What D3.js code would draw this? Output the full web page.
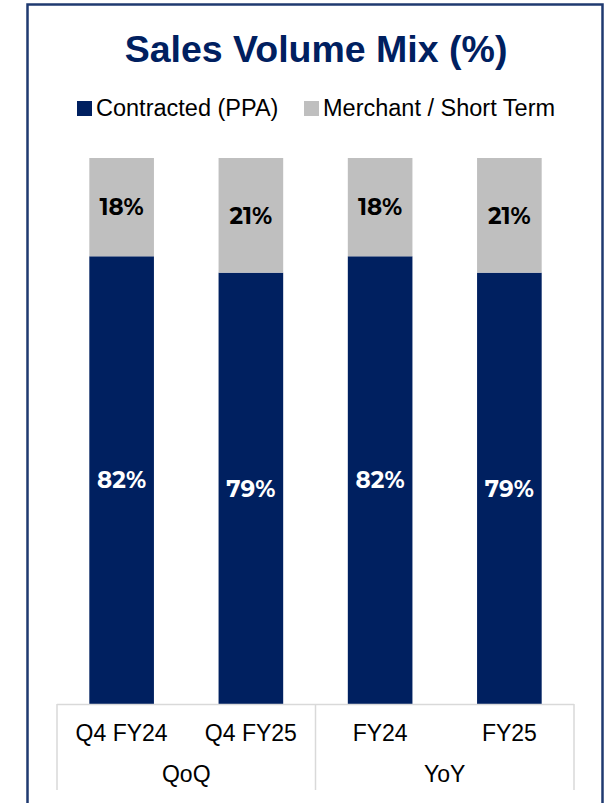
<!DOCTYPE html>
<html>
<head>
<meta charset="utf-8">
<script src="https://cdn.jsdelivr.net/npm/d3@7"></script>
<style>
  html, body { margin: 0; padding: 0; background: #fff; }
  svg { display: block; }
</style>
</head>
<body>
<svg id="chart" width="613" height="803"></svg>
<script>
// Sales volume mix by period
const categories = ["Q4 FY24", "Q4 FY25", "FY24", "FY25"];
const groups = [
  { name: "QoQ", members: ["Q4 FY24", "Q4 FY25"] },
  { name: "YoY", members: ["FY24", "FY25"] }
];
const contracted = [82, 79, 82, 79];
const merchant = [18, 21, 18, 21];
const seriesNames = ["Contracted (PPA)", "Merchant / Short Term"];
const seriesColors = ["#002060", "#BFBFBF"];

const svg = d3.select("#chart");
const sansFont = "Liberation Sans, Arial, sans-serif";

// outer frame
svg.append("rect")
  .attr("x", 27.5).attr("y", 4.5)
  .attr("width", 575).attr("height", 820)
  .attr("fill", "none").attr("stroke", "#1F3A70").attr("stroke-width", 2.5);

// title
svg.append("text")
  .attr("x", 316).attr("y", 62)
  .attr("text-anchor", "middle")
  .attr("font-family", sansFont)
  .attr("font-weight", "bold")
  .attr("font-size", 37.5)
  .attr("fill", "#002060")
  .text("Sales Volume Mix (%)");

// legend
const legendItems = [
  { x: 77, label: seriesNames[0], color: seriesColors[0] },
  { x: 304, label: seriesNames[1], color: seriesColors[1] }
];
const lg = svg.append("g");
legendItems.forEach(d => {
  lg.append("rect").attr("x", d.x).attr("y", 101).attr("width", 15).attr("height", 15).attr("fill", d.color);
  lg.append("text")
    .attr("x", d.x + 19).attr("y", 116)
    .attr("font-family", sansFont)
    .attr("font-size", 23.5)
    .attr("fill", "#000")
    .text(d.label);
});

// scales
const plotLeft = 57, plotRight = 574, plotTop = 158, plotBottom = 704;
const x = d3.scaleBand().domain(categories).range([plotLeft, plotRight]).paddingInner(0.5).paddingOuter(0.25);
const y = d3.scaleLinear().domain([0, 100]).range([plotBottom, plotTop]);

const rows = categories.map((c, i) => ({ cat: c, contracted: contracted[i], merchant: merchant[i] }));
const stacked = d3.stack().keys(["contracted", "merchant"])(rows);

const barG = svg.append("g");
stacked.forEach((layer, li) => {
  barG.selectAll(null)
    .data(layer)
    .join("rect")
    .attr("x", d => x(d.data.cat))
    .attr("y", d => y(d[1]))
    .attr("width", x.bandwidth())
    .attr("height", d => y(d[0]) - y(d[1]))
    .attr("fill", seriesColors[li]);

  barG.selectAll(null)
    .data(layer)
    .join("text")
    .attr("x", d => x(d.data.cat) + x.bandwidth() / 2)
    .attr("y", d => (y(d[0]) + y(d[1])) / 2)
    .attr("dy", "0.36em")
    .attr("text-anchor", "middle")
    .attr("font-family", "Montserrat, 'Open Sans', 'Noto Sans', sans-serif")
    .attr("font-weight", "bold")
    .attr("font-size", 23)
    .attr("fill", li === 0 ? "#fff" : "#000")
    .text(d => (d[1] - d[0]) + "%");
});

// two-level category axis
const axisG = svg.append("g");
const lineColor = "#D9D9D9";
axisG.append("line")
  .attr("x1", plotLeft).attr("x2", plotRight)
  .attr("y1", plotBottom + 0.5).attr("y2", plotBottom + 0.5)
  .attr("stroke", lineColor).attr("stroke-width", 1.5);

const step = x.step();
const groupBounds = groups.map(g => {
  const x0 = x(g.members[0]) - x.paddingInner() * step / 2;
  const x1 = x(g.members[g.members.length - 1]) + x.bandwidth() + x.paddingInner() * step / 2;
  return { name: g.name, x0, x1 };
});
const dividers = [plotLeft, ...groupBounds.slice(0, -1).map(g => g.x1), plotRight];
dividers.forEach(dx => {
  axisG.append("line")
    .attr("x1", dx).attr("x2", dx)
    .attr("y1", plotBottom).attr("y2", 790)
    .attr("stroke", lineColor).attr("stroke-width", 1.5);
});

axisG.selectAll(null)
  .data(categories)
  .join("text")
  .attr("x", d => x(d) + x.bandwidth() / 2)
  .attr("y", 741)
  .attr("text-anchor", "middle")
  .attr("font-family", sansFont)
  .attr("font-size", 23)
  .attr("fill", "#000")
  .text(d => d);

axisG.selectAll(null)
  .data(groupBounds)
  .join("text")
  .attr("x", d => (d.x0 + d.x1) / 2)
  .attr("y", 782)
  .attr("text-anchor", "middle")
  .attr("font-family", sansFont)
  .attr("font-size", 23)
  .attr("fill", "#000")
  .text(d => d.name);
</script>
</body>
</html>
